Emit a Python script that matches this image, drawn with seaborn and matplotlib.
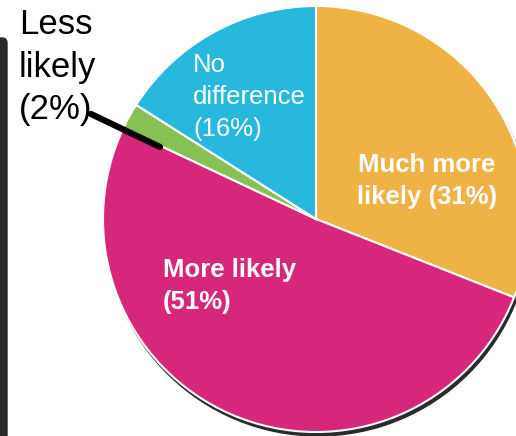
import matplotlib
matplotlib.use("Agg")
import matplotlib.pyplot as plt
import seaborn as sns
from matplotlib.patches import Circle, FancyBboxPatch

sns.set_theme(style="white")
plt.rcParams['font.family'] = ['Liberation Sans', 'DejaVu Sans']

categories = ["Much more likely", "More likely", "Less likely", "No difference"]
values = [31, 51, 2, 16]
colors = ["#EFB245", "#D6277B", "#85C155", "#28B8DE"]
label_texts = ["Much more\nlikely (31%)", "More likely\n(51%)", "Less\nlikely\n(2%)", "No\ndifference\n(16%)"]

W, H = 516, 436
fig = plt.figure(figsize=(W / 100, H / 100), dpi=100)
ax = fig.add_axes([0, 0, 1, 1])
ax.set_xlim(0, W)
ax.set_ylim(H, 0)
ax.set_aspect('equal')
ax.axis('off')

cx, cy, r = 316, 219, 213

# shadow
ax.add_patch(Circle((cx + 2, cy + 4), r, color="#2b2b2b", zorder=1))

wedges, _ = ax.pie(values, colors=colors, startangle=-90, counterclock=True,
                   center=(cx, cy), radius=r, frame=True,
                   wedgeprops=dict(edgecolor="white", linewidth=1.5, zorder=2))
ax.set_xlim(0, W)
ax.set_ylim(H, 0)
ax.axis('off')

# left dark bar
ax.add_patch(FancyBboxPatch((-6, 38), 13, 420, boxstyle="round,pad=0,rounding_size=5",
                            color="#2a2a2a", zorder=3))

# labels
ax.text(427, 181, label_texts[0], color="white", fontsize=18.5, fontweight="bold",
        ha="center", va="center", linespacing=1.4, zorder=5)
ax.text(163, 286, label_texts[1], color="white", fontsize=18.5, fontweight="bold",
        ha="left", va="center", linespacing=1.4, zorder=5)
ax.text(19, 67, label_texts[2], color="black", fontsize=25,
        ha="left", va="center", linespacing=1.38, zorder=5)
ax.text(193, 97, label_texts[3], color="white", fontsize=18.5,
        ha="left", va="center", linespacing=1.42, zorder=5)

# leader line for the small slice
ax.plot([91, 160], [114, 147], color="black", linewidth=4.5, solid_capstyle="round", zorder=6)

fig.savefig("out.png", dpi=100)
